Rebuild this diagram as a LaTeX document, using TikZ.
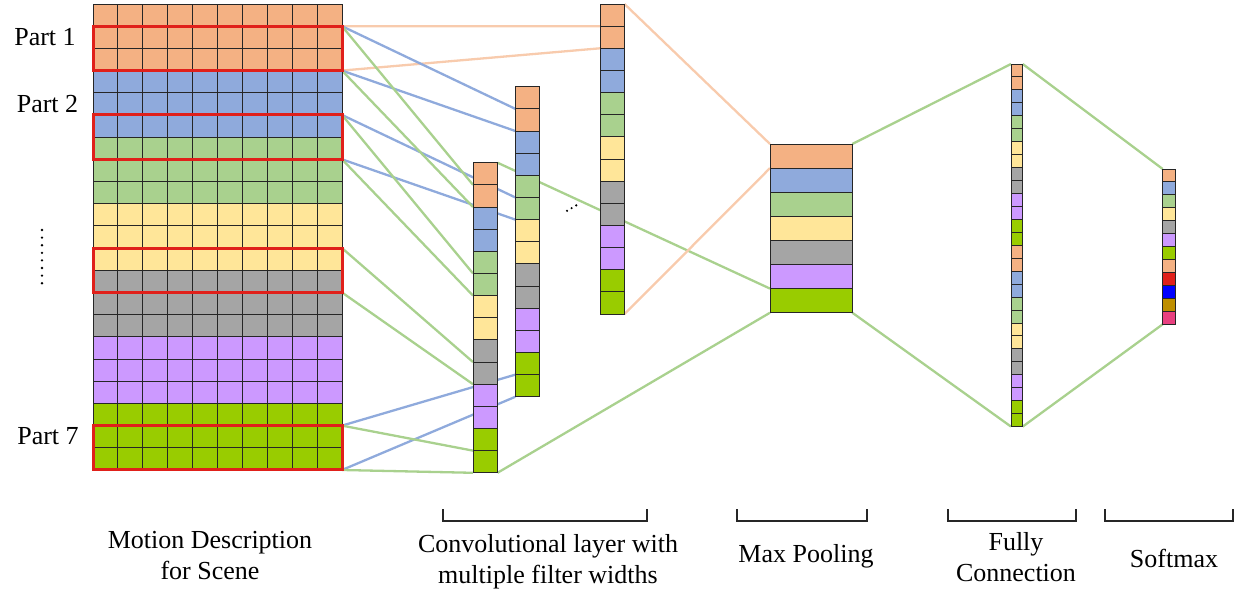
\documentclass[tikz,border=0pt]{standalone}
\usepackage{fontspec}
\setmainfont{Liberation Serif}
\usepackage{tikz}
\usetikzlibrary{fit, backgrounds}

\definecolor{cOrange}{HTML}{F4B183}
\definecolor{cBlue}{HTML}{8FAADC}
\definecolor{cGreen}{HTML}{A9D18E}
\definecolor{cYellow}{HTML}{FFE699}
\definecolor{cGray}{HTML}{A5A5A5}
\definecolor{cPurple}{HTML}{CC99FF}
\definecolor{cLime}{HTML}{99CC00}
\definecolor{cRed}{HTML}{E0201A}
\definecolor{cDeepBlue}{HTML}{0000FF}
\definecolor{cGold}{HTML}{BF8F00}
\definecolor{cPink}{HTML}{E8407F}
\definecolor{lnOrange}{HTML}{F8CBAD}
\definecolor{lnBlue}{HTML}{8FAADC}
\definecolor{lnGreen}{HTML}{A9D18E}

\begin{document}
\begin{tikzpicture}[x=1pt, y=-1pt]
\tikzset{cell/.style={draw=black!85, line width=1pt, anchor=north west, inner sep=0pt, outer sep=0pt}}
\tikzset{partbox/.style={draw=cRed, line width=3pt, inner sep=0pt}}
\tikzset{captiontext/.style={font=\fontsize{26}{31}\selectfont, align=center, inner sep=0pt}}
\tikzset{brack/.style={draw=black!85, line width=1.4pt}}
\tikzset{orline/.style={draw=lnOrange, line width=2.3pt}}
\tikzset{blline/.style={draw=lnBlue, line width=2.3pt}}
\tikzset{grline/.style={draw=lnGreen, line width=2.3pt}}
\useasboundingbox (0,0) rectangle (1235,605);

% motion description grid
\foreach \colr [count=\i from 0] in {cOrange,cBlue,cGreen,cYellow,cGray,cPurple,cLime}
  \foreach \j in {1,2,3}
    \foreach \c in {1,...,10} {
      \pgfmathtruncatemacro\r{3*\i+\j}
      \node[cell, fill=\colr, minimum width=24.9pt, minimum height=22.19pt] (g-\r-\c) at ({93+24.9*(\c-1)}, {4+22.19*(\r-1)}) {};
    }

% convolution columns
\foreach \name/\x/\y in {c1/473/162.7, c2/515.3/86.7, c3/600/4}
  \foreach \colr [count=\i from 0] in {cOrange,cBlue,cGreen,cYellow,cGray,cPurple,cLime}
    \foreach \j in {1,2} {
      \pgfmathtruncatemacro\k{2*\i+\j}
      \node[cell, fill=\colr, minimum width=24.5pt, minimum height=22.15pt] (\name-\k) at (\x, {\y+22.15*(\k-1)}) {};
    }

% max pooling
\foreach \colr [count=\k] in {cOrange,cBlue,cGreen,cYellow,cGray,cPurple,cLime}
  \node[cell, fill=\colr, minimum width=82.3pt, minimum height=24.1pt] (m-\k) at (770, {144+24.1*(\k-1)}) {};

% fully connection
\foreach \h in {0,1}
  \foreach \colr [count=\i from 0] in {cOrange,cBlue,cGreen,cYellow,cGray,cPurple,cLime}
    \foreach \j in {1,2} {
      \pgfmathtruncatemacro\k{14*\h+2*\i+\j}
      \node[cell, fill=\colr, minimum width=11.7pt, minimum height=12.95pt] (f-\k) at (1011, {64+12.95*(\k-1)}) {};
    }

% softmax
\foreach \colr [count=\k] in {cOrange,cBlue,cGreen,cYellow,cGray,cPurple,cLime,cOrange,cRed,cDeepBlue,cGold,cPink}
  \node[cell, fill=\colr, minimum width=12.6pt, minimum height=12.94pt] (s-\k) at (1162.7, {169+12.94*(\k-1)}) {};

% parts
\node[partbox, fit=(g-2-1)(g-3-10)] (part1) {};
\node[partbox, fit=(g-6-1)(g-7-10)] (part2) {};
\node[partbox, fit=(g-12-1)(g-13-10)] (part3) {};
\node[partbox, fit=(g-20-1)(g-21-10)] (part7) {};
\node[captiontext, anchor=base] (p1) at (45,45.5) {Part 1};
\node[captiontext, anchor=base] (p2) at (47.5,112) {Part 2};
\node[captiontext, anchor=base] (p7) at (48,444) {Part 7};
\draw[line width=2.6pt, line cap=round, dash pattern=on 0pt off 7.6pt] (42,230) -- (42,284);
\foreach \k in {0,1,2}
  \fill ({567+4.6*\k}, {210.8-2.7*\k}) circle (1.2pt);

\begin{pgfonlayer}{background}
\draw[orline] (g-2-10.north east) -- (c3-1.south west);
\draw[orline] (g-3-10.south east) -- (c3-2.south west);
\draw[blline] (g-2-10.north east) -- (c2-1.south west);
\draw[blline] (g-3-10.south east) -- (c2-2.south west);
\draw[blline] (g-6-10.north east) -- (c2-5.south west);
\draw[blline] (g-7-10.south east) -- (c2-6.south west);
\draw[blline] (g-20-10.north east) -- (c2-13.south west);
\draw[blline] (g-21-10.south east) -- (c2-14.south west);
\draw[grline] (g-2-10.north east) -- (c1-1.south west);
\draw[grline] (g-3-10.south east) -- (c1-2.south west);
\draw[grline] (g-6-10.north east) -- (c1-5.south west);
\draw[grline] (g-7-10.south east) -- (c1-6.south west);
\draw[grline] (g-12-10.north east) -- (c1-9.south west);
\draw[grline] (g-13-10.south east) -- (c1-10.south west);
\draw[grline] (g-20-10.north east) -- (c1-13.south west);
\draw[grline] (g-21-10.south east) -- (c1-14.south west);
\draw[grline] (c1-1.north east) -- (m-6.south west);
\draw[grline] (c1-14.south east) -- (m-7.south west);
\draw[orline] (c3-1.north east) -- (m-1.north west);
\draw[orline] (c3-14.south east) -- (m-1.south west);
\draw[grline] (m-1.north east) -- (f-1.north west);
\draw[grline] (m-7.south east) -- (f-28.south west);
\draw[grline] (f-1.north east) -- (s-1.north west);
\draw[grline] (f-28.south east) -- (s-12.south west);
\end{pgfonlayer}

% layer captions
\foreach \a/\b in {443/647, 737/867, 948/1076, 1105/1233}
  \draw[brack] (\a,509) |- (\b,521) -- (\b,509);
\node[captiontext] (scene) at (210,556) {Motion Description\\for Scene};
\node[captiontext] (conv) at (548,562) {Convolutional layer with\\multiple filter widths};
\node[captiontext] (pool) at (806,556) {Max Pooling};
\node[captiontext] (full) at (1016,557) {Fully\\Connection};
\node[captiontext] (soft) at (1174,558) {Softmax};
\end{tikzpicture}
\end{document}
